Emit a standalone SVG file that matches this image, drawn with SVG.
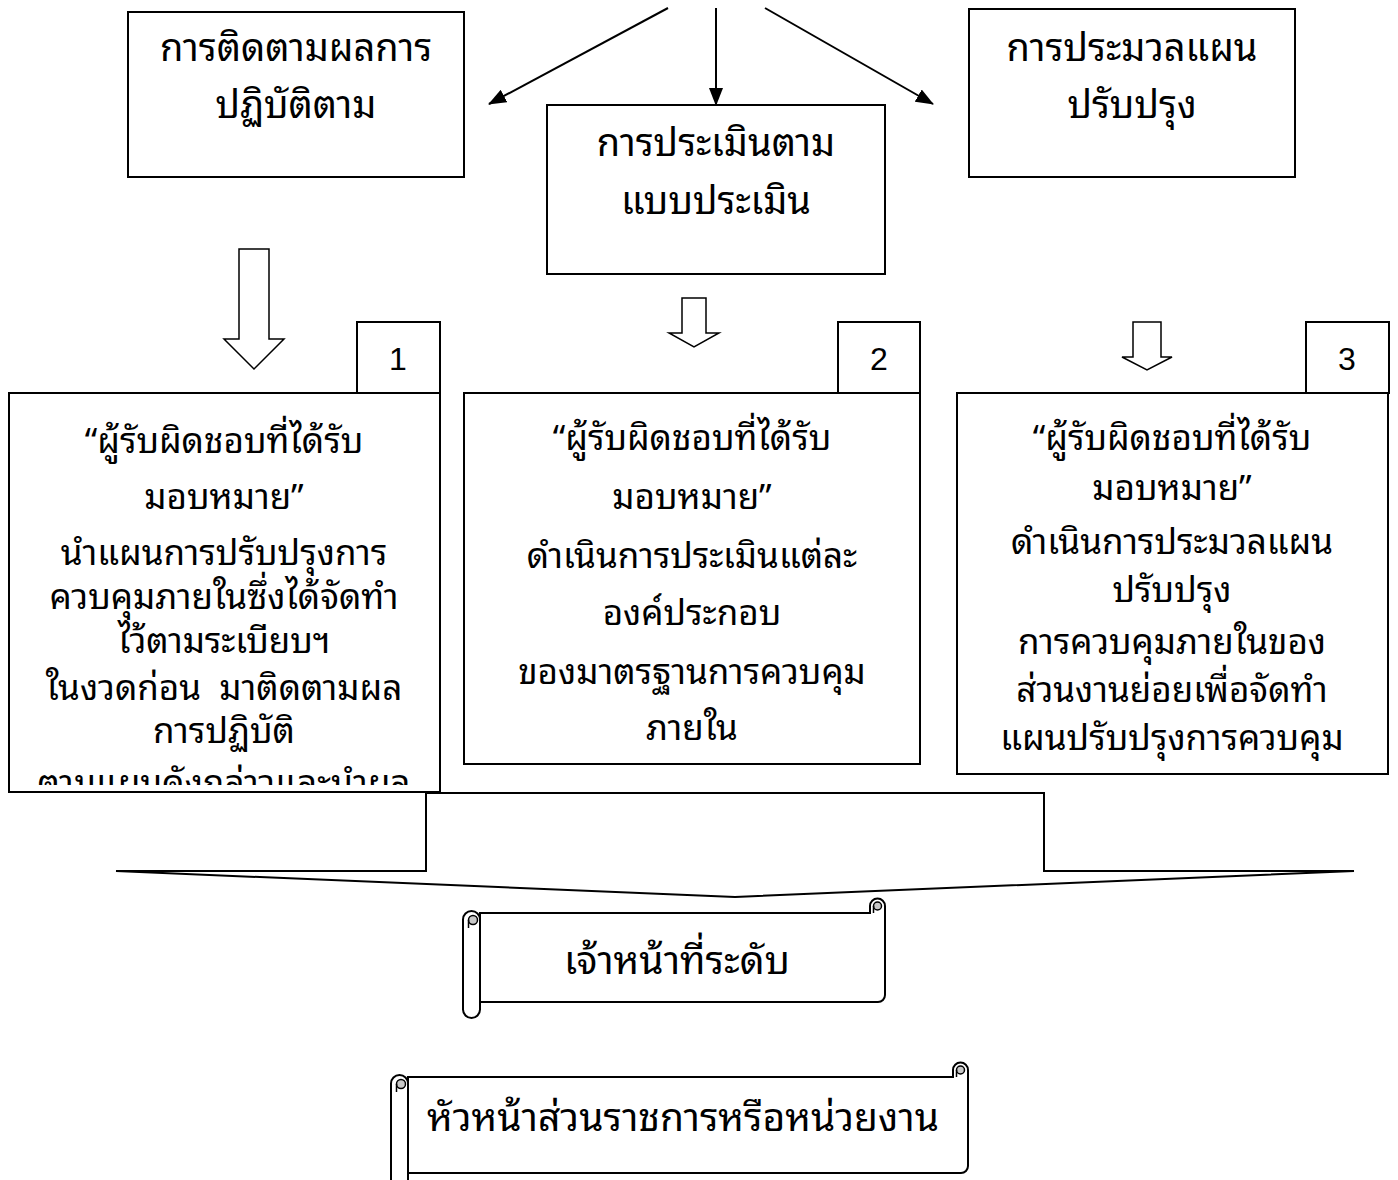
<svg xmlns="http://www.w3.org/2000/svg" width="1398" height="1180" viewBox="0 0 1398 1180">
<style>
.box{fill:#fff;stroke:#000;stroke-width:2}
.ln{fill:none;stroke:#000;stroke-width:2}
.blk{fill:#fff;stroke:#000;stroke-width:1.5}
.t{font-family:"Noto Sans Thai Looped","Loma","Tahoma","Noto Sans Thai","Noto Sans","DejaVu Sans",sans-serif;fill:#000;text-anchor:middle}
.top{font-size:38px}
.mid{font-size:35px}
.scr{font-size:39px}
.num{font-family:"Liberation Sans",Arial,sans-serif;font-size:32px;text-anchor:middle;fill:#000}
.curl{fill:#c8c8c8;stroke:#000;stroke-width:1.5}
</style>
<defs>
<marker id="ah" markerWidth="18" markerHeight="14" refX="17" refY="7" orient="auto" markerUnits="userSpaceOnUse" viewBox="0 0 18 14">
<path d="M0,0 L18,7 L0,14 z" fill="#000"/>
</marker>
<clipPath id="c1"><rect x="10" y="394" width="429" height="391"/></clipPath>
</defs>
<rect width="1398" height="1180" fill="#fff"/>

<g id="merge">
<polygon class="box" points="426,793 1044,793 1044,871 1354,871 735,897 116,871 426,871"/>
</g>

<g id="connectors">
<line class="ln" x1="668" y1="8" x2="489" y2="104" marker-end="url(#ah)"/>
<line class="ln" x1="716" y1="8" x2="716" y2="105" marker-end="url(#ah)"/>
<line class="ln" x1="765" y1="8" x2="933" y2="104" marker-end="url(#ah)"/>
<polygon class="blk" points="239,249 269,249 269,339 284,339 254,369 224,339 239,339"/>
<polygon class="blk" points="682,298 706,298 706,333 719,333 694,347 669,333 682,333"/>
<polygon class="blk" points="1133,322 1161,322 1161,357 1172,357 1147,370 1122,357 1133,357"/>
</g>

<g id="boxA">
<rect class="box" x="128" y="12" width="336" height="165"/>
<text class="t top" x="296" y="61">การติดตามผลการ</text>
<text class="t top" x="296" y="118">ปฏิบัติตาม</text>
</g>
<g id="boxB">
<rect class="box" x="547" y="105" width="338" height="169"/>
<text class="t top" x="716" y="156">การประเมินตาม</text>
<text class="t top" x="716" y="214">แบบประเมิน</text>
</g>
<g id="boxC">
<rect class="box" x="969" y="9" width="326" height="168"/>
<text class="t top" x="1132" y="61">การประมวลแผน</text>
<text class="t top" x="1132" y="118">ปรับปรุง</text>
</g>

<g id="num1">
<rect class="box" x="357" y="322" width="83" height="71"/>
<text class="num" x="398" y="370">1</text>
</g>
<g id="num2">
<rect class="box" x="838" y="322" width="82" height="71"/>
<text class="num" x="879" y="370">2</text>
</g>
<g id="num3">
<rect class="box" x="1306" y="322" width="83" height="71"/>
<text class="num" x="1347" y="370">3</text>
</g>

<g id="box1">
<rect class="box" x="9" y="393" width="431" height="399"/>
<g clip-path="url(#c1)">
<text class="t mid" x="224" y="453">“ผู้รับผิดชอบที่ได้รับ</text>
<text class="t mid" x="224" y="509">มอบหมาย”</text>
<text class="t mid" x="224" y="565">นำแผนการปรับปรุงการ</text>
<text class="t mid" x="224" y="609">ควบคุมภายในซึ่งได้จัดทำ</text>
<text class="t mid" x="224" y="653">ไว้ตามระเบียบฯ</text>
<text class="t mid" x="224" y="700" xml:space="preserve">ในงวดก่อน  มาติดตามผล</text>
<text class="t mid" x="224" y="743">การปฏิบัติ</text>
<text class="t mid" x="224" y="795">ตามแผนดังกล่าวและนำผล</text>
</g>
</g>

<g id="box2">
<rect class="box" x="464" y="393" width="456" height="371"/>
<text class="t mid" x="692" y="450">“ผู้รับผิดชอบที่ได้รับ</text>
<text class="t mid" x="692" y="509">มอบหมาย”</text>
<text class="t mid" x="692" y="568">ดำเนินการประเมินแต่ละ</text>
<text class="t mid" x="692" y="625">องค์ประกอบ</text>
<text class="t mid" x="692" y="684">ของมาตรฐานการควบคุม</text>
<text class="t mid" x="692" y="740">ภายใน</text>
</g>

<g id="box3">
<rect class="box" x="957" y="393" width="431" height="381"/>
<text class="t mid" x="1172" y="450">“ผู้รับผิดชอบที่ได้รับ</text>
<text class="t mid" x="1172" y="500">มอบหมาย”</text>
<text class="t mid" x="1172" y="554">ดำเนินการประมวลแผน</text>
<text class="t mid" x="1172" y="602">ปรับปรุง</text>
<text class="t mid" x="1172" y="654">การควบคุมภายในของ</text>
<text class="t mid" x="1172" y="702">ส่วนงานย่อยเพื่อจัดทำ</text>
<text class="t mid" x="1172" y="750">แผนปรับปรุงการควบคุม</text>
</g>

<g id="scroll1">
<path class="box" d="M480,913 L870,913 L870,906 A7.5,7.5 0 1 1 885,906 L885,995 A7,7 0 0 1 878,1002 L480,1002 Z"/>
<circle class="curl" cx="877.5" cy="906" r="4"/>
<line class="ln" x1="873.5" y1="906" x2="873.5" y2="913" style="stroke-width:1.5"/>
<rect class="box" x="463" y="911" width="17" height="107" rx="8.5"/>
<circle class="curl" cx="473" cy="920" r="4.5"/>
<line class="ln" x1="468.5" y1="920" x2="468.5" y2="928" style="stroke-width:1.5"/>
<text class="t scr" x="677" y="974">เจ้าหน้าที่ระดับ</text>
</g>

<g id="scroll2">
<path class="box" d="M408,1077 L953,1077 L953,1070 A7.5,7.5 0 1 1 968,1070 L968,1166 A7,7 0 0 1 961,1173 L408,1173 Z"/>
<circle class="curl" cx="960.5" cy="1070" r="4"/>
<line class="ln" x1="956.5" y1="1070" x2="956.5" y2="1077" style="stroke-width:1.5"/>
<rect class="box" x="391" y="1075" width="17" height="114" rx="8.5"/>
<circle class="curl" cx="401" cy="1084" r="4.5"/>
<line class="ln" x1="396.5" y1="1084" x2="396.5" y2="1092" style="stroke-width:1.5"/>
<text class="t scr" x="683" y="1131">หัวหน้าส่วนราชการหรือหน่วยงาน</text>
</g>
</svg>
